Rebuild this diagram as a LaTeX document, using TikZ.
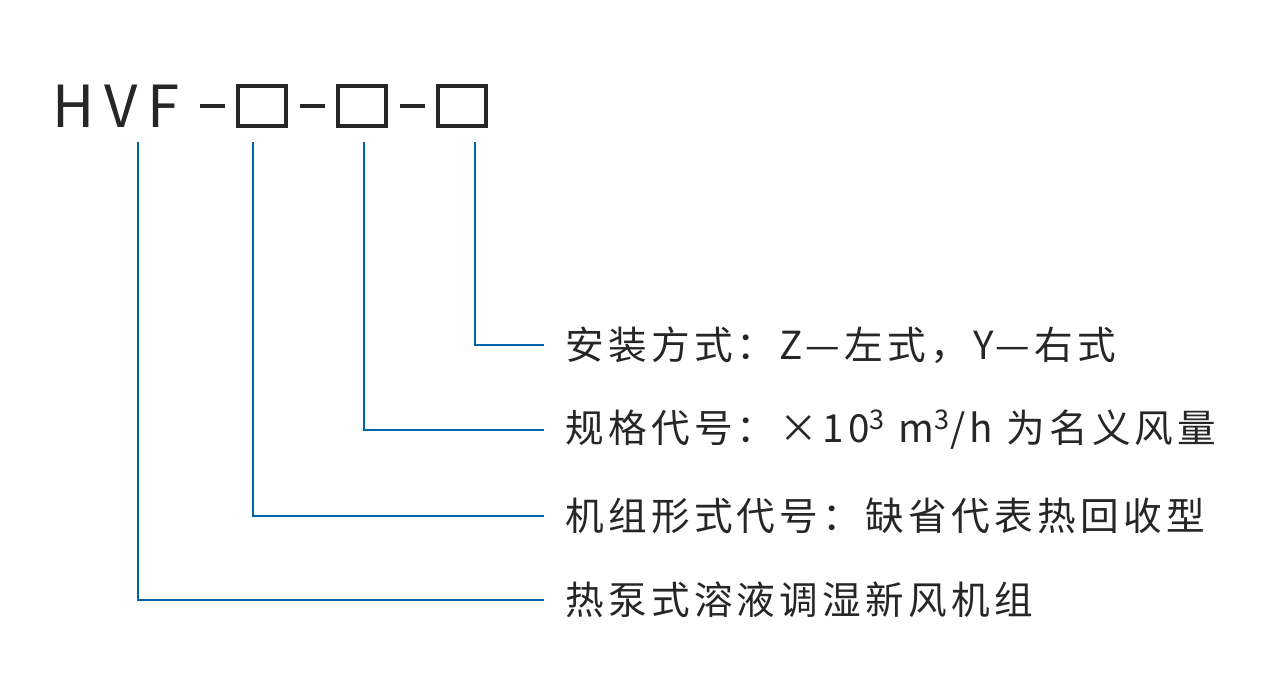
\documentclass[tikz,border=0pt]{standalone}
\usepackage{fontspec}
\setmainfont{Noto Sans CJK SC}
\begin{document}
\begin{tikzpicture}[x=0.02cm,y=-0.02cm,
  every node/.style={inner sep=0pt, text=black!85},
  codebox/.style={draw=black!85, line width=2.2pt, minimum width=48pt*0.02/0.0352778, minimum height=40pt*0.02/0.0352778},
  desc/.style={anchor=west, font=\fontsize{22}{24}\selectfont\addfontfeature{LetterSpace=11}},
  lead/.style={draw={rgb,255:red,0;green,100;blue,170}, line width=1pt}]
  \useasboundingbox (0,0) rectangle (1283,676);
  \node[anchor=base west, font=\fontsize{33}{33}\selectfont] (hvf) at (52,127) {H\,V\,F};
  \node[codebox] (b1) at (262,106) {};
  \node[codebox] (b2) at (362,106) {};
  \node[codebox] (b3) at (462,106) {};
  \draw[line width=2.2pt, black!85] (200,106) -- (225,106) (300,106) -- (325,106) (400,106) -- (425,106);
  % descriptions
  \node[desc] (d1) at (565,345) {安装方式：Z—左式，Y—右式};
  \node[desc] (d2) at (565,430) {规格代号：×10\textsuperscript{3} m\textsuperscript{3}/h 为名义风量};
  \node[desc] (d3) at (565,516) {机组形式代号：缺省代表热回收型};
  \node[desc] (d4) at (565,600) {热泵式溶液调湿新风机组};
  \coordinate (t0) at (138,142);
  \coordinate (t1) at (253,142);
  \coordinate (t2) at (364,142);
  \coordinate (t3) at (475,142);
  \draw[lead] (t3) |- ([xshift=-12]d1.west);
  \draw[lead] (t2) |- ([xshift=-12]d2.west);
  \draw[lead] (t1) |- ([xshift=-12]d3.west);
  \draw[lead] (t0) |- ([xshift=-12]d4.west);
\end{tikzpicture}
\end{document}
